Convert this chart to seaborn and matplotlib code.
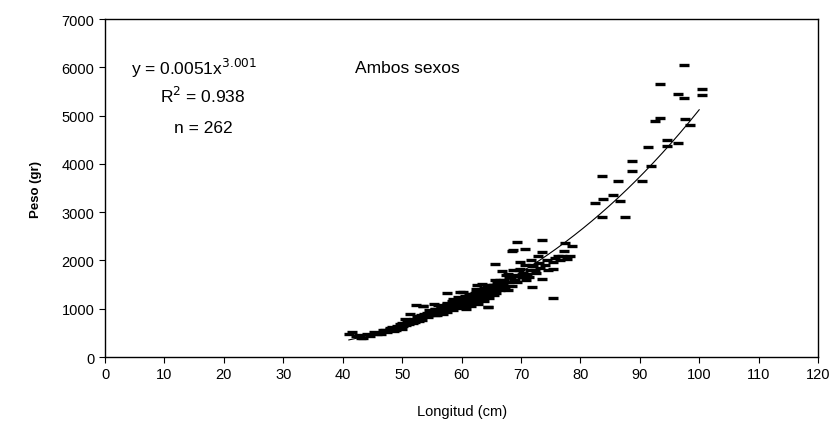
import numpy as np
import pandas as pd
import matplotlib
matplotlib.use("Agg")
import matplotlib.pyplot as plt
import seaborn as sns

# Longitud (cm) vs Peso (gr), ambos sexos
longitud = [
    41.0, 41.6, 42.2, 42.8, 43.4, 43.0, 44.1, 44.6, 45.2, 45.7,
    46.0, 46.4, 46.8, 47.1, 47.5, 47.9, 48.0, 48.3, 48.6, 48.9,
    49.1, 49.4, 49.7, 49.9, 50.0, 50.2, 50.5, 50.7, 50.9,
    51.0, 51.2, 51.3, 51.6, 51.8,
    52.0, 52.2, 52.5, 52.5, 52.7, 52.9, 52.4, 52.8,
    53.0, 53.2, 53.4, 53.5, 53.7, 53.9, 53.5, 53.5,
    54.0, 54.2, 54.4, 54.6, 54.8, 54.9, 54.5, 54.5,
    55.0, 55.1, 55.3, 55.5, 55.6, 55.8, 55.9, 55.5, 55.5,
    56.0, 56.1, 56.3, 56.5, 56.6, 56.8, 56.9, 56.5, 56.5,
    57.0, 57.2, 57.3, 57.5, 57.6, 57.6, 57.9, 57.5, 57.5,
    58.0, 58.1, 58.2, 58.4, 58.5, 58.6, 58.8, 58.9, 58.5, 58.5,
    59.0, 59.1, 59.3, 59.4, 59.5, 59.7, 59.8, 59.9, 59.5, 59.5,
    60.0, 60.1, 60.2, 60.3, 60.5, 60.6, 60.7, 60.8, 60.9, 60.5, 60.5,
    61.0, 61.1, 61.2, 61.4, 61.5, 61.6, 61.7, 61.8, 61.9, 61.5, 61.5,
    62.0, 62.1, 62.3, 62.4, 62.5, 62.6, 62.7, 62.8, 62.6, 62.5, 62.5,
    63.0, 63.1, 63.2, 63.4, 63.5, 63.6, 63.7, 63.8, 63.9, 63.5, 63.5,
    64.0, 64.2, 64.3, 64.5, 64.6, 64.7, 64.8, 64.9, 64.5, 64.5,
    65.0, 65.2, 65.3, 65.4, 65.6, 65.7, 65.8, 65.9, 65.5, 65.5,
    66.0, 66.8, 66.2, 66.4, 66.5, 65.7, 66.6, 66.9, 66.5,
    67.0, 67.2, 67.3, 67.5, 67.6, 67.8, 67.9,
    68.0, 67.8, 68.3, 68.4, 68.5, 68.7, 68.9,
    69.0, 69.2, 68.7, 69.4, 69.6, 69.4, 69.8,
    69.9, 69.9, 70.2, 70.4, 70.6, 70.7, 70.9,
    71.0, 71.5, 71.3, 71.6, 71.8,
    72.1, 71.9, 72.4, 72.6, 72.8,
    73.6, 73.2, 73.6, 73.6, 73.0,
    74.0, 74.3, 74.6,
    75.4, 75.4, 75.4, 75.8,
    76.2, 76.5,
    76.9, 77.4, 77.2,
    77.8, 78.6, 78.2,
    82.5, 83.7, 83.8, 83.7, 85.5, 86.4, 86.7, 87.5, 88.7, 88.7,
    90.4, 91.4, 91.8, 92.6, 93.4, 93.4, 94.6, 94.6, 96.5, 96.5,
    97.5, 97.5, 97.6, 98.5, 100.5, 100.5,
]
peso = [
    480, 510, 430, 460, 390, 400, 470, 430, 520, 480,
    500, 470, 560, 560, 520, 600, 580, 620, 540, 560,
    640, 600, 680, 590, 700, 640, 790, 660, 720,
    720, 680, 890, 760, 700,
    780, 730, 850, 760, 800, 750, 1080, 810,
    820, 880, 760, 850, 900, 840, 1050, 1050,
    870, 920, 830, 980, 950, 900, 900, 880,
    900, 960, 1100, 880, 1000, 860, 940, 940, 1000,
    950, 1080, 1000, 920, 1030, 970, 890, 980, 1060,
    1000, 1050, 980, 1120, 940, 1330, 1060, 1020, 1090,
    1040, 1100, 1000, 1150, 1200, 980, 1080, 1130, 1080, 1160,
    1100, 1050, 1180, 1250, 1020, 1140, 1350, 1090, 1120, 1200,
    1150, 1100, 1350, 1200, 1050, 1250, 1000, 1180, 1120, 1180, 1260,
    1200, 1150, 1280, 1100, 1220, 1060, 1300, 1170, 1240, 1220, 1300,
    1250, 1200, 1320, 1150, 1400, 1280, 1100, 1230, 1490, 1270, 1350,
    1300, 1250, 1380, 1510, 1200, 1330, 1150, 1420, 1280, 1320, 1400,
    1350, 1300, 1450, 1040, 1230, 1400, 1500, 1370, 1380, 1030,
    1400, 1350, 1500, 1280, 1600, 1450, 1330, 1550, 1430, 1500,
    1450, 1780, 1500, 1380, 1600, 1930, 1420, 1550, 1480,
    1500, 1600, 1450, 1700, 1550, 1380, 1650,
    1550, 1720, 1650, 1480, 2200, 1800, 1600,
    1600, 1700, 2220, 1550, 1800, 2380, 1680,
    1970, 1820, 1650, 1750, 1900, 2240, 1600,
    1720, 1800, 1650, 2000, 1900,
    1890, 1450, 1800, 1750, 2100,
    1620, 1850, 2170, 2420, 1950,
    1900, 2000, 1800,
    1970, 1820, 1220, 2050,
    2100, 2000,
    2090, 2360, 2200,
    2030, 2300, 2100,
    3190, 3750, 3270, 2900, 3350, 3640, 3230, 2900, 4060, 3850,
    3640, 4350, 3960, 4890, 4950, 5650, 4490, 4370, 4430, 5450,
    6050, 5360, 4930, 4800, 5550, 5430,
]

# power fit shown on the chart: y = a * x^b
fit_a = 0.0051
fit_b = 3.001
fit_x_range = (41, 100)

df = pd.DataFrame({"longitud": longitud, "peso": peso})
fit_x = np.linspace(fit_x_range[0], fit_x_range[1], 200)
fit_df = pd.DataFrame({"longitud": fit_x, "peso": fit_a * fit_x ** fit_b})

sns.set_style("ticks")
plt.rcParams["font.family"] = ["Liberation Sans", "DejaVu Sans"]
plt.rcParams["text.color"] = "black"
plt.rcParams["axes.labelcolor"] = "black"

fig, ax = plt.subplots(figsize=(8.4, 4.35), dpi=100)
fig.subplots_adjust(left=0.125, right=0.974, top=0.954, bottom=0.177)

sns.scatterplot(data=df, x="longitud", y="peso", marker="_", s=45,
                color="black", linewidth=2.4, ax=ax, zorder=3)
sns.lineplot(data=fit_df, x="longitud", y="peso", color="black",
             linewidth=0.8, ax=ax, zorder=2)

ax.set_xlim(0, 120)
ax.set_ylim(0, 7000)
ax.set_xticks(range(0, 121, 10))
ax.set_yticks(range(0, 7001, 1000))
ax.tick_params(labelsize=10.5, length=4, width=0.8, colors="black")
for side in ["top", "right", "left", "bottom"]:
    ax.spines[side].set_visible(True)
    ax.spines[side].set_color("black")
    ax.spines[side].set_linewidth(1.0)

ax.set_xlabel("Longitud (cm)", fontsize=10.5, labelpad=16)
ax.set_ylabel("Peso (gr)", fontsize=9.5, fontweight="bold", labelpad=14)

ax.text(4.3, 6000, r"y = 0.0051x$^{3.001}$", fontsize=12.5, va="center", ha="left")
ax.text(16.5, 5430, r"R$^{2}$ = 0.938", fontsize=12.5, va="center", ha="center")
ax.text(16.5, 4760, "n = 262", fontsize=12.5, va="center", ha="center")
ax.text(42, 6000, "Ambos sexos", fontsize=12.5, va="center", ha="left")

fig.savefig("out.png", dpi=100)
